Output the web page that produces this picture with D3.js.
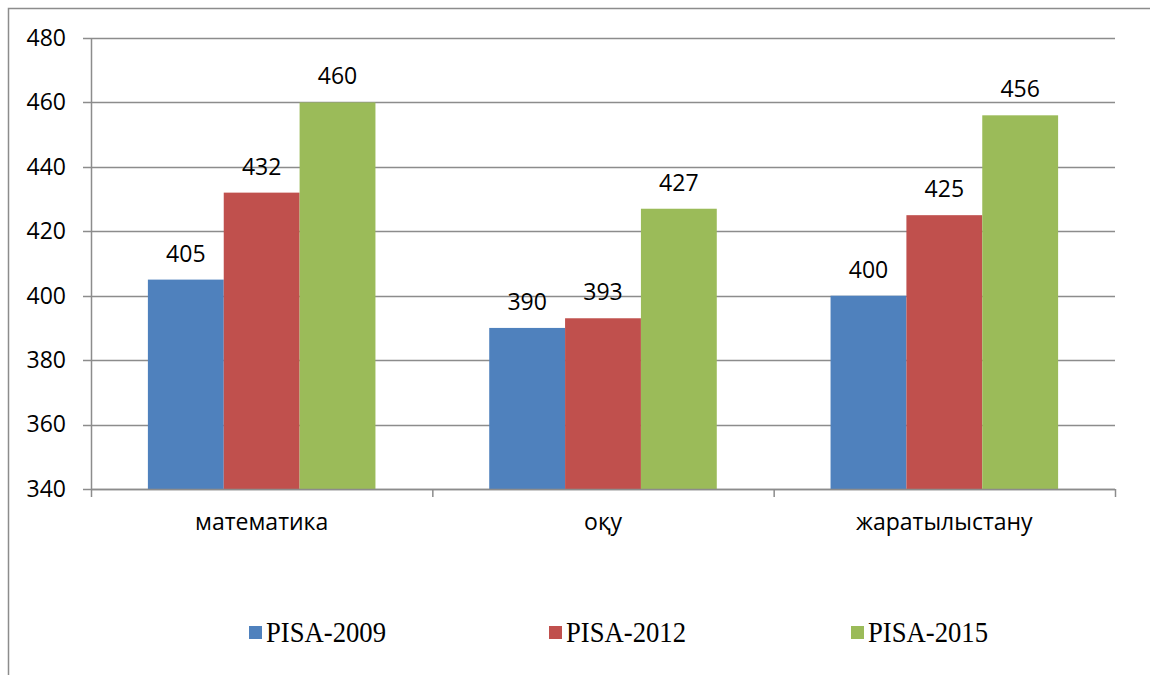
<!DOCTYPE html>
<html>
<head>
<meta charset="utf-8">
<script src="https://cdn.jsdelivr.net/npm/d3@7"></script>
<style>
  body { margin: 0; background: #fff; }
  svg { display: block; }
</style>
</head>
<body>
<div id="chart-area"></div>
<script>
// chart data
const categories = ["математика", "оқу", "жаратылыстану"]
const seriesNames = ["PISA-2009", "PISA-2012", "PISA-2015"]
const pisa2009 = [405, 390, 400]
const pisa2012 = [432, 393, 425]
const pisa2015 = [460, 427, 456]
const yTicks = [340, 360, 380, 400, 420, 440, 460, 480]
const colors = ["#4F81BD", "#C0504D", "#9BBB59"]

const series = [pisa2009, pisa2012, pisa2015]

const W = 1150, H = 675
const MARGIN = { LEFT: 91, RIGHT: 35, TOP: 38, BOTTOM: 186 }
const WIDTH = W - MARGIN.LEFT - MARGIN.RIGHT
const HEIGHT = H - MARGIN.TOP - MARGIN.BOTTOM
const FONT = "'Open Sans', sans-serif"

const svg = d3.select("#chart-area").append("svg")
  .attr("width", W)
  .attr("height", H)

// outer frame (runs past the right/bottom edges)
svg.append("rect")
  .attr("x", 8.5).attr("y", 8.5)
  .attr("width", W + 50).attr("height", H + 50)
  .attr("fill", "none")
  .attr("stroke", "#8c8c8c")
  .attr("stroke-width", 1.5)

const g = svg.append("g")
  .attr("transform", `translate(${MARGIN.LEFT}, ${MARGIN.TOP})`)

// scales
const x0 = d3.scaleBand().domain(categories).range([0, WIDTH]).padding(0)
const x1 = d3.scaleBand().domain(seriesNames)
  .range([0, x0.bandwidth()]).paddingOuter(0.75).paddingInner(0)
const y = d3.scaleLinear().domain([340, 480]).range([HEIGHT, 0])

// gridlines
g.append("g")
  .selectAll("line")
  .data(yTicks)
  .join("line")
    .attr("x1", -8)
    .attr("x2", WIDTH)
    .attr("y1", d => Math.round(y(d)) + 0.5)
    .attr("y2", d => Math.round(y(d)) + 0.5)
    .attr("stroke", "#8c8c8c")
    .attr("stroke-width", 1.5)

// y axis
const yAxis = g.append("g")
  .call(d3.axisLeft(y).tickValues(yTicks).tickSize(0).tickPadding(25))
yAxis.select(".domain").remove()
yAxis.selectAll("text")
  .attr("font-family", FONT)
  .attr("font-size", "23px")
  .attr("fill", "#000")

// y axis line
g.append("line")
  .attr("x1", 0.5).attr("x2", 0.5)
  .attr("y1", 0).attr("y2", HEIGHT)
  .attr("stroke", "#8c8c8c")
  .attr("stroke-width", 1.5)

// bars
const groups = g.selectAll(".cat")
  .data(categories)
  .join("g")
    .attr("class", "cat")
    .attr("transform", d => `translate(${x0(d)}, 0)`)

groups.selectAll("rect")
  .data((d, i) => series.map((s, j) => ({ name: seriesNames[j], value: s[i], color: colors[j] })))
  .join("rect")
    .attr("x", d => x1(d.name))
    .attr("width", x1.bandwidth())
    .attr("y", d => y(d.value))
    .attr("height", d => HEIGHT - y(d.value))
    .attr("fill", d => d.color)

groups.selectAll("text.val")
  .data((d, i) => series.map((s, j) => ({ name: seriesNames[j], value: s[i] })))
  .join("text")
    .attr("class", "val")
    .attr("x", d => x1(d.name) + x1.bandwidth() / 2)
    .attr("y", d => y(d.value) - 18)
    .attr("text-anchor", "middle")
    .attr("font-family", FONT)
    .attr("font-size", "23px")
    .text(d => d.value)

// x axis
const xAxis = g.append("g")
  .attr("transform", `translate(0, ${HEIGHT})`)
  .call(d3.axisBottom(x0).tickSize(0).tickPadding(25))
xAxis.select(".domain").remove()
xAxis.selectAll("text")
  .attr("font-family", FONT)
  .attr("font-size", "23px")
  .attr("fill", "#000")

g.append("line")
  .attr("x1", 0).attr("x2", WIDTH)
  .attr("y1", HEIGHT + 0.5).attr("y2", HEIGHT + 0.5)
  .attr("stroke", "#8c8c8c")
  .attr("stroke-width", 1.5)

// category boundary ticks
g.append("g")
  .selectAll("line")
  .data(categories.concat(["end"]))
  .join("line")
    .attr("x1", (d, i) => i < categories.length ? x0(d) + 0.5 : WIDTH + 0.5)
    .attr("x2", (d, i) => i < categories.length ? x0(d) + 0.5 : WIDTH + 0.5)
    .attr("y1", HEIGHT)
    .attr("y2", HEIGHT + 8)
    .attr("stroke", "#8c8c8c")
    .attr("stroke-width", 1.5)

// legend
const legendX = [249, 549, 851]
const legend = svg.append("g")
  .selectAll("g")
  .data(seriesNames)
  .join("g")
    .attr("transform", (d, i) => `translate(${legendX[i]}, 626)`)

legend.append("rect")
  .attr("width", 13).attr("height", 13)
  .attr("fill", (d, i) => colors[i])

legend.append("text")
  .attr("x", 17)
  .attr("y", 16)
  .attr("font-family", "'Liberation Serif', 'Times New Roman', serif")
  .attr("font-size", "30px")
  .attr("textLength", 120)
  .attr("lengthAdjust", "spacingAndGlyphs")
  .text(d => d)
</script>
</body>
</html>
